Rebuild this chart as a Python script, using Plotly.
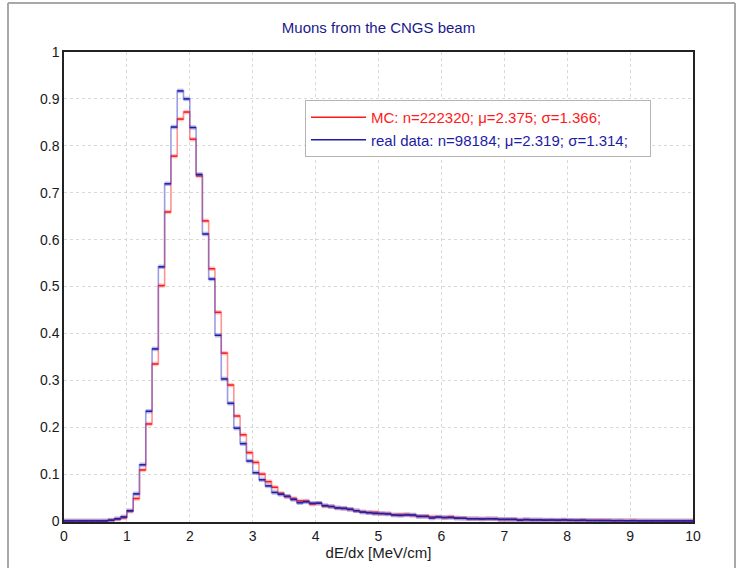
import numpy as np
import plotly.graph_objects as go

# Histogram binning for dE/dx (MeV/cm): 100 bins of width 0.1 from 0 to 10
bin_edges = [round(0.1 * i, 1) for i in range(101)]

# Normalised counts per bin, Monte Carlo sample
mc_counts = [
    0.0003, 0.0003, 0.0003, 0.0003, 0.0003, 0.0003, 0.0005, 0.0015, 0.004, 0.007,
    0.021, 0.048, 0.109, 0.207, 0.335, 0.502, 0.659, 0.778, 0.857, 0.872,
    0.814, 0.736, 0.640, 0.538, 0.445, 0.358, 0.290, 0.224, 0.184, 0.146,
    0.125, 0.100, 0.084, 0.072, 0.059, 0.052, 0.048, 0.043, 0.043, 0.036,
    0.038, 0.032, 0.031, 0.028, 0.027, 0.025, 0.022, 0.020, 0.018, 0.0185,
    0.016, 0.016, 0.013, 0.014, 0.014, 0.012, 0.010, 0.010, 0.009, 0.0085,
    0.0075, 0.009, 0.007, 0.006, 0.005, 0.005, 0.0045, 0.005, 0.0045, 0.0035,
    0.0035, 0.0035, 0.0025, 0.003, 0.0025, 0.0025, 0.002, 0.002, 0.0015, 0.002,
    0.0015, 0.0015, 0.0012, 0.0012, 0.0012, 0.0015, 0.001, 0.001, 0.0008, 0.0008,
    0.0012, 0.0005, 0.0005, 0.0005, 0.0005, 0.0005, 0.0004, 0.0004, 0.0004, 0.0004,
]

# Normalised counts per bin, real data
data_counts = [
    0.0003, 0.0003, 0.0003, 0.0003, 0.0003, 0.0003, 0.0005, 0.002, 0.005, 0.009,
    0.022, 0.058, 0.120, 0.234, 0.367, 0.542, 0.719, 0.840, 0.917, 0.900,
    0.839, 0.739, 0.612, 0.516, 0.396, 0.303, 0.251, 0.198, 0.165, 0.128,
    0.103, 0.088, 0.075, 0.061, 0.057, 0.053, 0.046, 0.039, 0.041, 0.038,
    0.038, 0.033, 0.031, 0.028, 0.027, 0.025, 0.022, 0.019, 0.018, 0.016,
    0.016, 0.015, 0.013, 0.012, 0.013, 0.013, 0.010, 0.010, 0.0065, 0.0085,
    0.0075, 0.0075, 0.006, 0.006, 0.005, 0.005, 0.0045, 0.005, 0.005, 0.0035,
    0.0035, 0.0035, 0.002, 0.003, 0.0025, 0.0025, 0.002, 0.0022, 0.002, 0.0025,
    0.0018, 0.0015, 0.002, 0.0012, 0.0012, 0.001, 0.0012, 0.0008, 0.001, 0.0008,
    0.0006, 0.0006, 0.0005, 0.0005, 0.0005, 0.0004, 0.0004, 0.0004, 0.0004, 0.0004,
]

mc_label = "MC: n=222320; μ=2.375; σ=1.366;"
data_label = "real data: n=98184; μ=2.319; σ=1.314;"

x_ticks = list(range(0, 11))
y_ticks = [round(0.1 * i, 1) for i in range(11)]
y_tick_text = ["0", "0.1", "0.2", "0.3", "0.4", "0.5", "0.6", "0.7", "0.8", "0.9", "1"]

FONT = "Arial, Liberation Sans, sans-serif"


def bin_tops(edges, counts):
    """Horizontal segment per bin, separated by gaps."""
    xs, ys = [], []
    for i, c in enumerate(counts):
        xs += [edges[i], edges[i + 1], None]
        ys += [c, c, None]
    return xs, ys


def add_histogram(fig, counts, name, step_rgba, band_rgba, top_color, text_color):
    # outline of the histogram (light)
    fig.add_trace(go.Scatter(
        x=bin_edges, y=list(counts) + [counts[-1]],
        mode="lines", line=dict(shape="hv", color=step_rgba, width=1.6),
        showlegend=False, hoverinfo="skip"))
    tx, ty = bin_tops(bin_edges, counts)
    # translucent band at each bin height
    fig.add_trace(go.Scatter(
        x=tx, y=ty, mode="lines", line=dict(color=band_rgba, width=4.5),
        showlegend=False, hoverinfo="skip"))
    # solid bin height line
    fig.add_trace(go.Scatter(
        x=tx, y=ty, mode="lines", line=dict(color=top_color, width=1.4),
        name=f"<span style='color:{text_color}'>{name}\u00a0\u00a0\u00a0\u00a0</span>",
        hoverinfo="skip"))


fig = go.Figure()
add_histogram(fig, mc_counts, mc_label,
              "rgba(255,60,60,0.55)", "rgba(255,90,90,0.35)", "#ff1a1a", "#ff1a1a")
add_histogram(fig, data_counts, data_label,
              "rgba(60,60,200,0.5)", "rgba(70,70,190,0.38)", "#1c1ca6", "#1c1ca6")

W, H = 739, 568
L, R, T, B = 64, 46, 52, 46
pw, ph = W - L - R, H - T - B


def px_x(p):
    return (p - L) / pw


def px_y(p):
    return 1 - (p - T) / ph


# outer grey frame of the canvas
frame = dict(type="line", xref="paper", yref="paper",
             line=dict(color="#a8a8a8", width=2), layer="above")
fig.add_shape(**frame, x0=px_x(8), x1=px_x(8), y0=px_y(3), y1=px_y(575))
fig.add_shape(**frame, x0=px_x(8), x1=px_x(735), y0=px_y(3), y1=px_y(3))
fig.add_shape(**frame, x0=px_x(735), x1=px_x(735), y0=px_y(3), y1=px_y(575))

axis_common = dict(
    showline=True, linecolor="#222222", linewidth=1.5, mirror=True,
    showgrid=True, gridcolor="#d9d9d9", griddash="dot", gridwidth=1,
    zeroline=False, ticks="",
    tickfont=dict(family=FONT, size=14, color="#1a1a1a"),
)

fig.update_layout(
    width=W, height=H,
    margin=dict(l=L, r=R, t=T, b=B),
    paper_bgcolor="white", plot_bgcolor="white",
    title=dict(text="Muons from the CNGS beam", x=0.5, xref="paper",
               y=1 - 28 / H, yref="container", yanchor="middle",
               font=dict(family=FONT, size=15, color="#1a1a8c")),
    xaxis=dict(range=[0, 10], tickvals=x_ticks, ticktext=[str(v) for v in x_ticks],
               title=dict(text="dE/dx [MeV/cm]", standoff=2,
                          font=dict(family=FONT, size=15, color="#1a1a1a")),
               **axis_common),
    yaxis=dict(range=[-0.002, 1.0], tickvals=y_ticks, ticktext=y_tick_text,
               **axis_common),
    legend=dict(x=px_x(305), y=px_y(100), xanchor="left", yanchor="top",
                bgcolor="white", bordercolor="#b4b4b4", borderwidth=1,
                font=dict(family=FONT, size=15),
                itemwidth=55),
    showlegend=True,
)

fig.write_html("out.html")
